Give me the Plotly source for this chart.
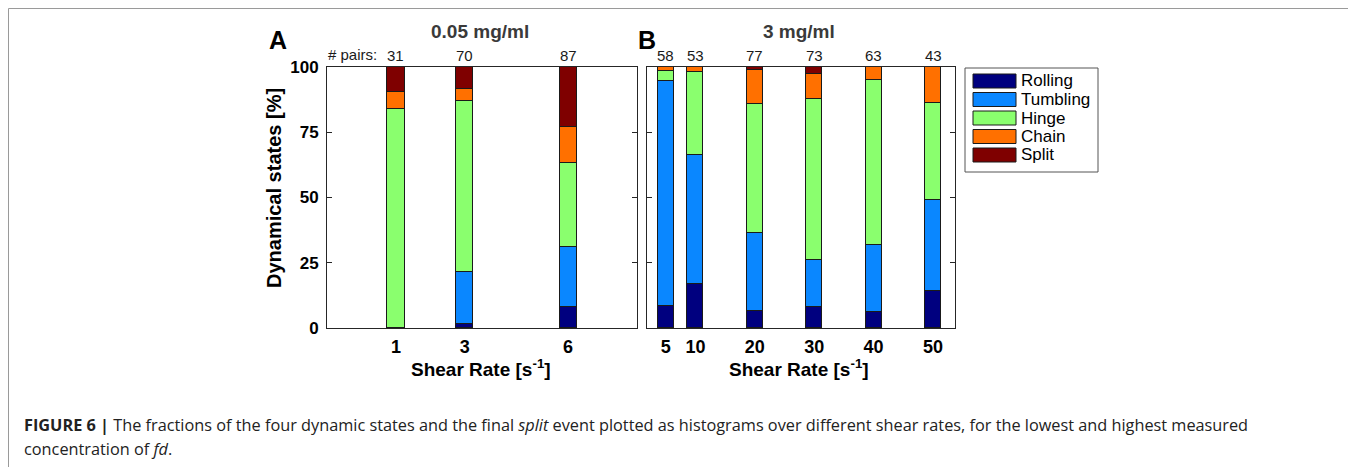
import plotly.graph_objects as go

# ---------------- data ----------------
states = ["Rolling", "Tumbling", "Hinge", "Chain", "Split"]
state_colors = ["#00007F", "#0A87FF", "#8AFF6E", "#FF7000", "#7F0000"]

rates_A = [1, 3, 6]
pairs_A = [31, 70, 87]
A_rolling = [0.0, 1.4, 8.0]
A_tumbling = [0.0, 20.0, 23.0]
A_hinge = [83.9, 65.7, 32.2]
A_chain = [6.5, 4.3, 13.8]
A_split = [9.6, 8.6, 23.0]

rates_B = [5, 10, 20, 30, 40, 50]
pairs_B = [58, 53, 77, 73, 63, 43]
B_rolling = [8.6, 17.0, 6.5, 8.2, 6.3, 14.0]
B_tumbling = [86.2, 49.1, 29.9, 17.8, 25.4, 34.9]
B_hinge = [3.5, 32.0, 49.3, 61.6, 63.5, 37.2]
B_chain = [1.7, 1.9, 13.0, 9.6, 4.8, 13.9]
B_split = [0.0, 0.0, 1.3, 2.8, 0.0, 0.0]

y_ticks = [0, 25, 50, 75, 100]

# ---------------- layout helpers ----------------
W, H = 1356, 467
OFF = 8  # page body margin offset
def px(x):
    return (x - OFF) / W
def py(y):
    return 1 - (y - OFF) / H

FONT = "Liberation Sans"
EDGE = "#1a1a1a"
AX = "#262626"

fig = go.Figure()

series_A = [A_rolling, A_tumbling, A_hinge, A_chain, A_split]
series_B = [B_rolling, B_tumbling, B_hinge, B_chain, B_split]
for name, col, vals in zip(states, state_colors, series_A):
    fig.add_trace(go.Bar(x=rates_A, y=vals, name=name, width=0.5,
                         marker=dict(color=col, line=dict(color=EDGE, width=1)),
                         xaxis="x", yaxis="y", showlegend=False))
for name, col, vals in zip(states, state_colors, series_B):
    fig.add_trace(go.Bar(x=rates_B, y=vals, name=name, width=2.7,
                         marker=dict(color=col, line=dict(color=EDGE, width=1)),
                         xaxis="x2", yaxis="y2", showlegend=False))

yax_common = dict(range=[0, 100], tickvals=y_ticks, ticks="inside", ticklen=5,
                  tickcolor=AX, showline=True, linecolor=AX, linewidth=1,
                  mirror="ticks", showgrid=False, zeroline=False, automargin=False,
                  domain=[py(328), py(67)], fixedrange=True)
xax_common = dict(showline=True, linecolor=AX, linewidth=1, mirror=True,
                  ticks="", showgrid=False, zeroline=False, automargin=False,
                  tickfont=dict(family=FONT, size=18, color="black", weight="bold"),
                  ticklabelstandoff=2, fixedrange=True)

fig.update_layout(
    width=W, height=H,
    margin=dict(l=0, r=0, t=0, b=0, pad=0, autoexpand=False),
    paper_bgcolor="white", plot_bgcolor="white",
    barmode="stack", bargap=0,
    xaxis=dict(domain=[px(327), px(637)], range=[-1, 8],
               tickvals=rates_A, ticktext=[str(r) for r in rates_A],
               anchor="y", **xax_common),
    yaxis=dict(anchor="x", showticklabels=True,
               tickfont=dict(family=FONT, size=17, color="black", weight="bold"),
               ticklabelstandoff=4, **yax_common),
    xaxis2=dict(domain=[px(647), px(955)], range=[1.85, 53.7],
                tickvals=rates_B, ticktext=[str(r) for r in rates_B],
                anchor="y2", **xax_common),
    yaxis2=dict(anchor="x2", showticklabels=False, **yax_common),
    showlegend=False,
)

ann = []
def label(text, x, y, size, color="black", xa="center", ya="middle", family=FONT, **kw):
    ann.append(dict(text=text, x=x, y=y, xref=kw.pop("xref", "paper"),
                    yref=kw.pop("yref", "paper"), xanchor=xa, yanchor=ya,
                    showarrow=False, font=dict(family=family, size=size, color=color), **kw))

# panel letters and titles
label("<b>A</b>", px(278), py(40), 25)
label("<b>B</b>", px(647), py(40), 25)
label("<b>0.05 mg/ml</b>", px(480), py(32), 19, "#3a3a3a")
label("<b>3 mg/ml</b>", px(799), py(32), 19, "#3a3a3a")
# pair counts
for r, n in zip(rates_A, pairs_A):
    label(str(n), r, 100, 15, "#1a1a1a", ya="bottom", xref="x", yref="y", yshift=1)
for r, n in zip(rates_B, pairs_B):
    label(str(n), r, 100, 15, "#1a1a1a", ya="bottom", xref="x2", yref="y2", yshift=1)
label("# pairs:", px(379), py(55), 15, "#1a1a1a", xa="right")
# axis titles
label("<b>Dynamical states [%]</b>", px(274), py(188), 20, textangle=-90)
for cx in (481, 799):
    label("<b>Shear Rate [s<sup>-1</sup>]</b>", px(cx), py(368), 19)

shapes = []
# legend (manual, built from states/colors)
shapes.append(dict(type="rect", xref="paper", yref="paper",
                   x0=px(965), x1=px(1098), y0=py(172), y1=py(68),
                   line=dict(color="#555555", width=1), fillcolor="white"))
for i, (name, col) in enumerate(zip(states, state_colors)):
    cy = 81 + 18.5 * i
    shapes.append(dict(type="rect", xref="paper", yref="paper",
                       x0=px(973), x1=px(1016), y0=py(cy + 7), y1=py(cy - 7),
                       line=dict(color=EDGE, width=1), fillcolor=col))
    label(name, px(1019), py(cy), 17, xa="left")

# figure frame
frame = "#9a9a9a"
shapes.append(dict(type="line", xref="paper", yref="paper", x0=px(8.5), x1=px(8.5),
                   y0=0, y1=py(8.5), line=dict(color=frame, width=1)))
shapes.append(dict(type="line", xref="paper", yref="paper", x0=px(8.5), x1=px(1352.5),
                   y0=py(8.5), y1=py(8.5), line=dict(color=frame, width=1)))
shapes.append(dict(type="line", xref="paper", yref="paper", x0=px(1352.5), x1=px(1352.5),
                   y0=0, y1=py(8.5), line=dict(color=frame, width=1)))

# caption
cap1 = ("<b>FIGURE 6 |</b> The fractions of the four dynamic states and the final "
        "<i>split</i> event plotted as histograms over different shear rates, for the "
        "lowest and highest measured")
cap2 = "concentration of <i>fd</i>."
label(cap1, px(22), py(425), 16.3, "#222222", xa="left", family="Open Sans")
label(cap2, px(22), py(449), 16.3, "#222222", xa="left", family="Open Sans")

fig.update_layout(annotations=ann, shapes=shapes)
fig.write_html("out.html")
